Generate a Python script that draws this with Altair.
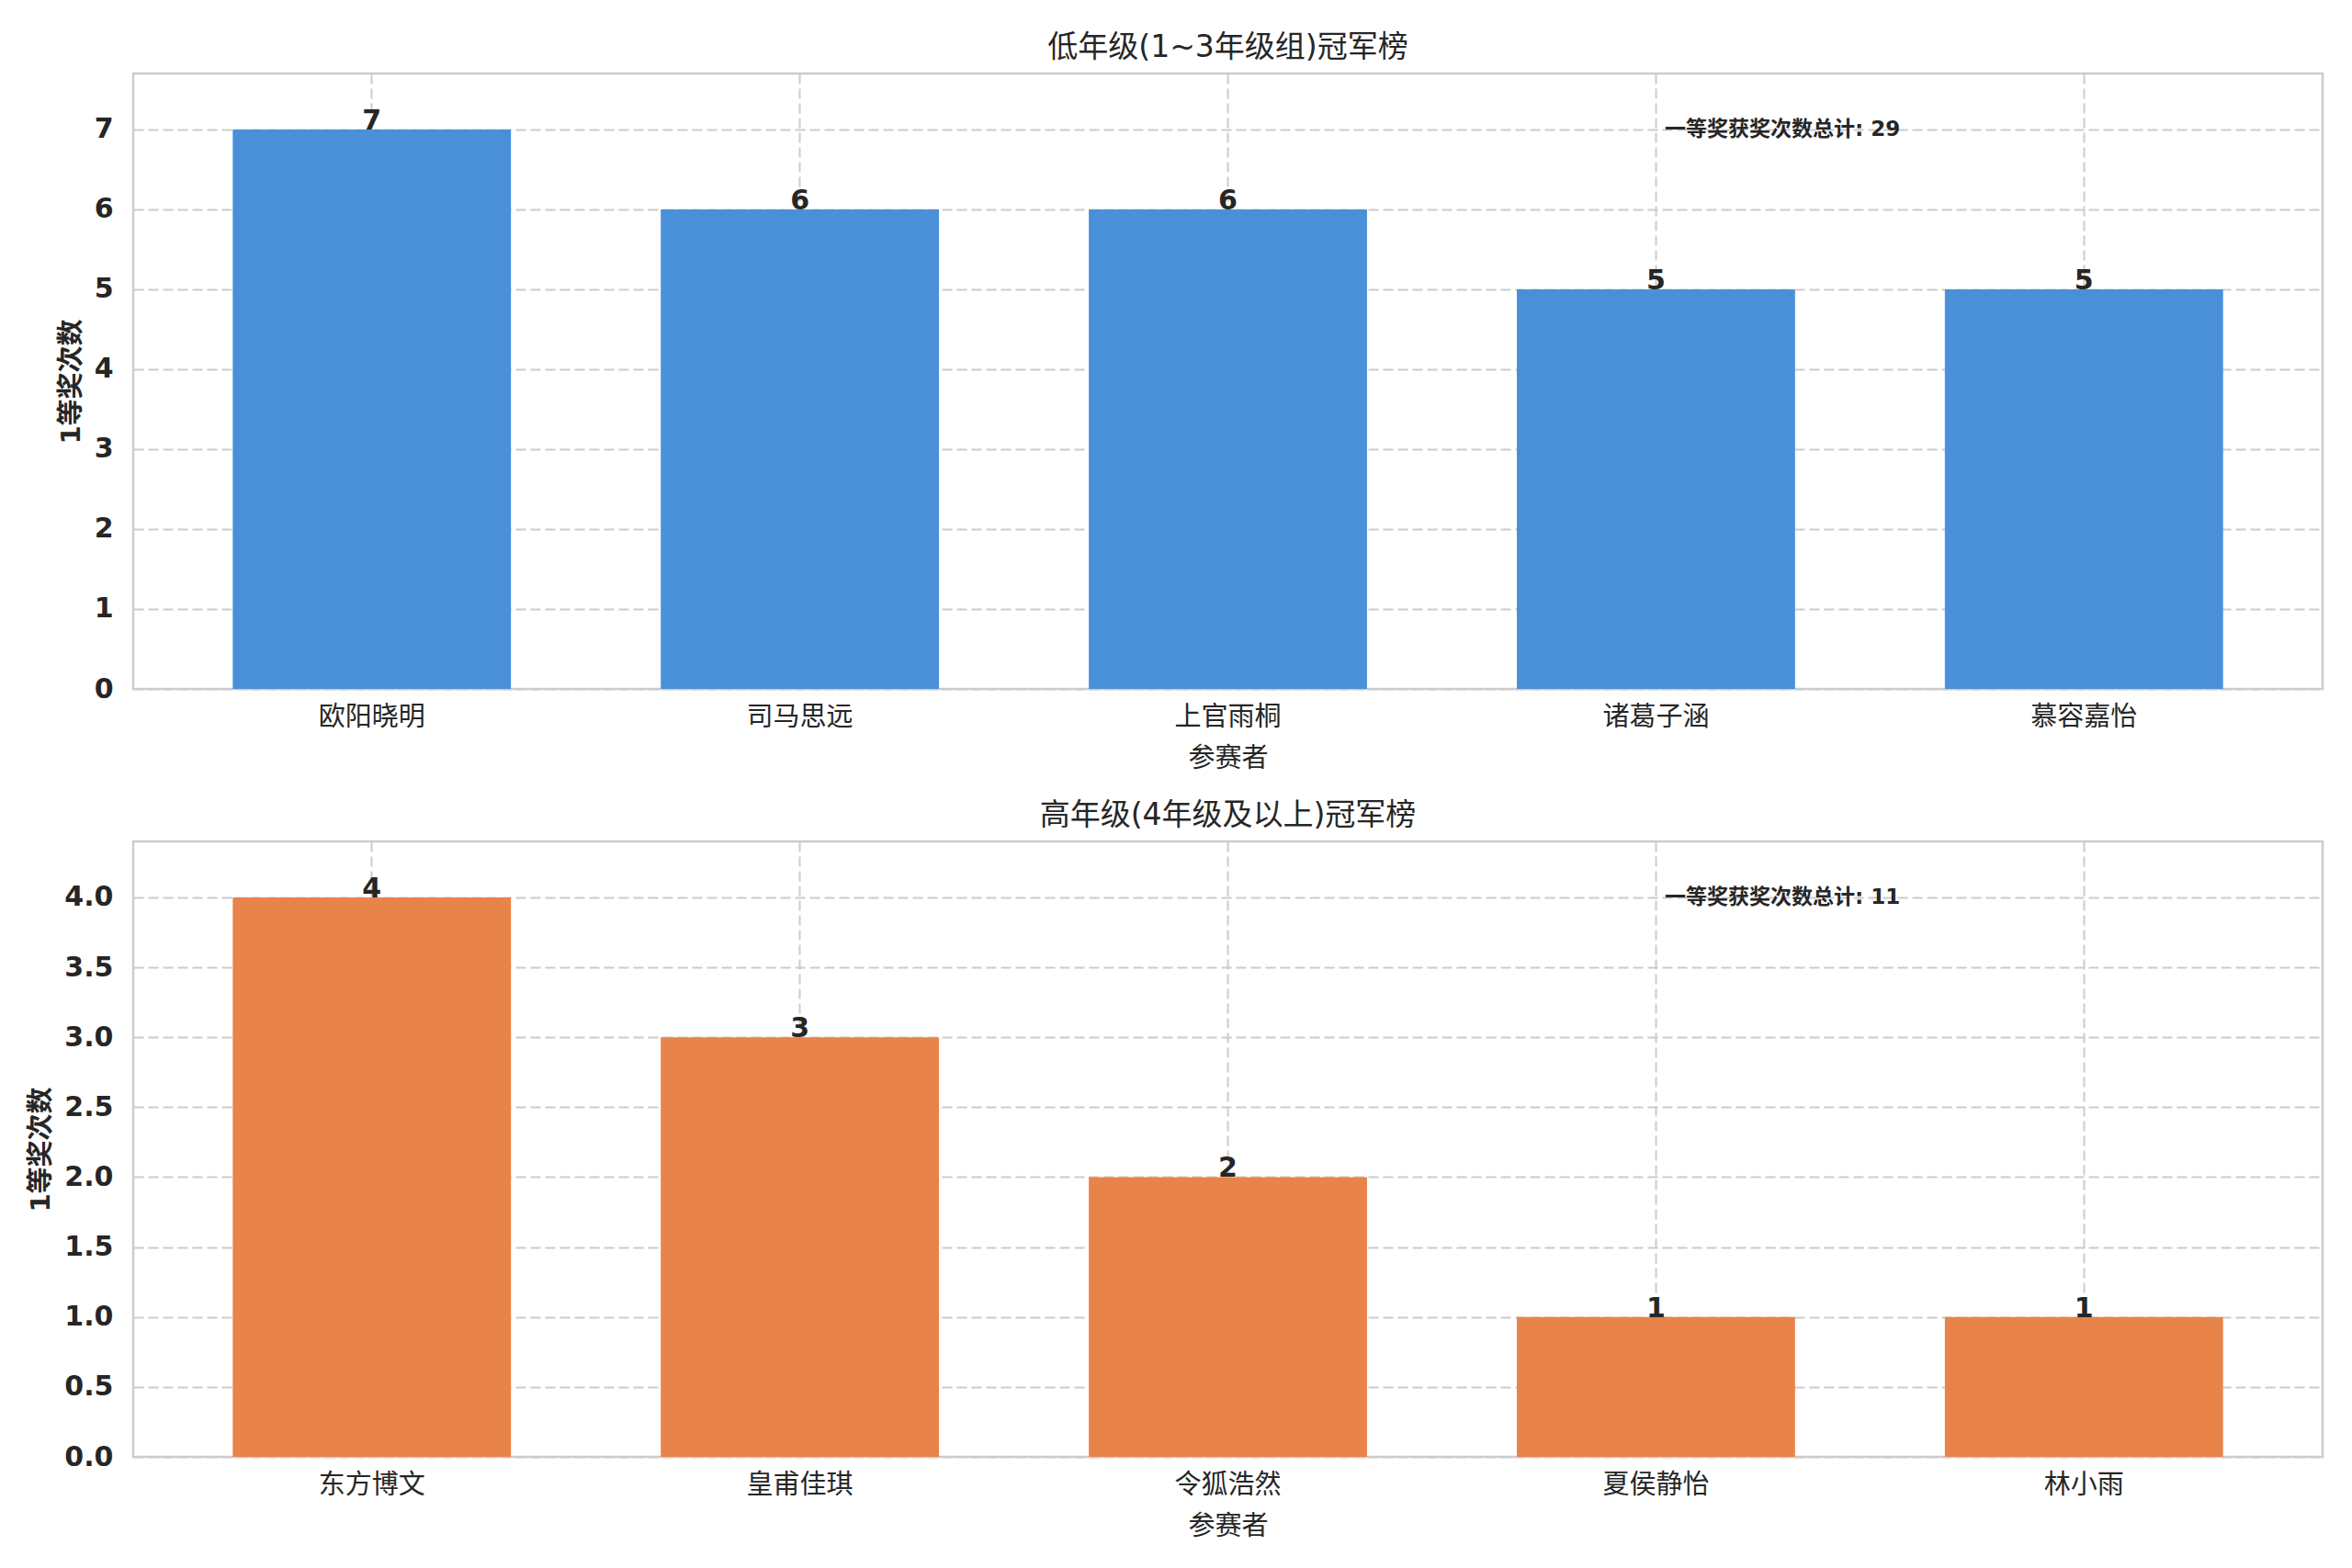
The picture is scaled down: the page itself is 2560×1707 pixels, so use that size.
import altair as alt
import pandas as pd

FONT = "DejaVu Sans, Noto Sans CJK SC, sans-serif"
TEXT = "#262626"

top_title = "低年级(1~3年级组)冠军榜"
bot_title = "高年级(4年级及以上)冠军榜"
x_title = "参赛者"
y_title = "1等奖次数"
ann_label = "一等奖获奖次数总计"

top_names = ["欧阳晓明", "司马思远", "上官雨桐", "诸葛子涵", "慕容嘉怡"]
top_counts = [7, 6, 6, 5, 5]
bot_names = ["东方博文", "皇甫佳琪", "令狐浩然", "夏侯静怡", "林小雨"]
bot_counts = [4, 3, 2, 1, 1]

top_ticks = [0, 1, 2, 3, 4, 5, 6, 7]
bot_ticks = [0, 0.5, 1.0, 1.5, 2.0, 2.5, 3.0, 3.5, 4.0]

W, H = 2383, 670


def panel(names, counts, color, title, ymax, ticks, fmt):
    df = pd.DataFrame({"name": names, "count": counts})
    base = alt.Chart(df)
    x = alt.X(
        "name:N",
        sort=names,
        scale=alt.Scale(paddingInner=0.35, paddingOuter=0.2325),
        axis=alt.Axis(
            title=x_title,
            bandPosition=0.5,
            grid=True,
            ticks=False,
            labelAngle=0,
            labelPadding=16,
            titlePadding=16,
            titleX=W / 2,
            titleAnchor="middle",
            labelFontSize=29,
            labelFontWeight="normal",
            titleFontSize=29,
            titleFontWeight="normal",
        ),
    )
    y = alt.Y(
        "count:Q",
        scale=alt.Scale(domain=[0, ymax], nice=False, zero=True),
        axis=alt.Axis(
            title=y_title,
            values=ticks,
            format=fmt,
            ticks=False,
            labelPadding=22,
            titlePadding=10,
            labelFontSize=30,
            labelFontWeight="bold",
            titleFontSize=29,
            titleFontWeight="bold",
        ),
    )
    bars = base.mark_bar(color=color).encode(x=x, y=y)
    labels = base.mark_text(
        baseline="alphabetic", fontSize=30, fontWeight="bold", color=TEXT, font=FONT
    ).encode(x=x, y=y, text=alt.Text("count:Q"))
    total = sum(counts)
    ann_df = pd.DataFrame({"t": [f"{ann_label}: {total}"]})
    ann = (
        alt.Chart(ann_df)
        .mark_text(
            align="left", baseline="middle", fontSize=23, fontWeight="bold",
            color=TEXT, font=FONT,
        )
        .encode(x=alt.value(1667), y=alt.value(61), text="t:N")
    )
    return alt.layer(bars, labels, ann).properties(
        width=W,
        height=H,
        title=alt.TitleParams(
            title, fontSize=33, fontWeight="normal", color=TEXT, font=FONT, offset=11
        ),
    )


top = panel(top_names, top_counts, "#4A90D9", top_title, 7.7, top_ticks, "d")
bot = panel(bot_names, bot_counts, "#E8834A", bot_title, 4.4, bot_ticks, ".1f")

chart = (
    alt.vconcat(top, bot, spacing=28)
    .properties(padding={"left": 21, "top": 26, "right": 20, "bottom": 10}, background="white")
    .configure_axis(
        domain=False,
        labelColor=TEXT,
        titleColor=TEXT,
        labelFont=FONT,
        titleFont=FONT,
        gridColor="#cccccc",
        gridDash=[11, 5],
        gridWidth=2,
    )
    .configure_view(stroke="#cccccc", strokeWidth=2.5)
)

chart.save("out.html", embed_options={"renderer": "svg", "actions": False})
